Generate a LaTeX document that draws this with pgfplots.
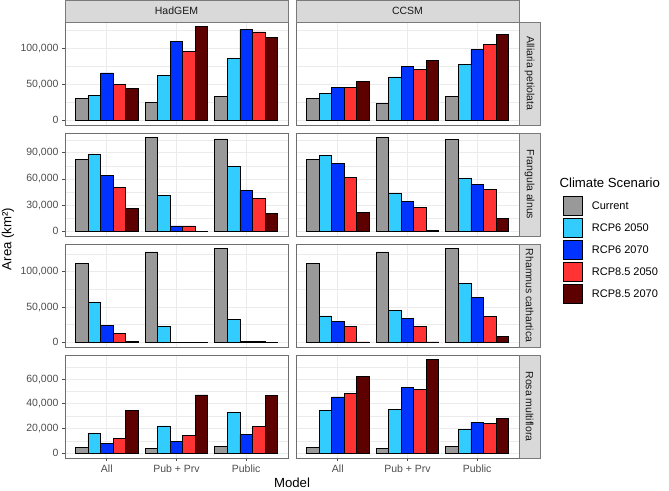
\documentclass[border=0pt]{standalone}
\usepackage{pgfplots}
\pgfplotsset{compat=1.18}
\usepackage{pgfplotstable}
\usepackage{fontspec}
\setmainfont{Liberation Sans}

\definecolor{cur}{HTML}{999999}
\definecolor{rsa}{HTML}{33CCFF}
\definecolor{rsb}{HTML}{0033FF}
\definecolor{rea}{HTML}{FF3333}
\definecolor{reb}{HTML}{5C0000}
\definecolor{gridc}{HTML}{EBEBEB}
\definecolor{borderc}{HTML}{6E6E6E}
\definecolor{tickc}{HTML}{4D4D4D}
\definecolor{stripc}{HTML}{D9D9D9}
\definecolor{stripb}{HTML}{7A7A7A}

\newcommand\tickfont{\fontsize{10.5}{12}\selectfont}
\newcommand\legfont{\fontsize{11}{13}\selectfont}
\newcommand\titlefont{\fontsize{13.2}{15}\selectfont}

% area in km^2, one table per panel: x = 1 All, 2 Pub + Prv, 3 Public
\pgfplotstableread{
x cur r6a r6b r85a r85b
1 30600 34200 65800 49800 44700
2 24200 62100 109600 95900 130100
3 33300 85800 126500 122800 114600
}\allHad
\pgfplotstableread{
x cur r6a r6b r85a r85b
1 30600 37400 46100 46100 53900
2 23700 60300 74900 71200 83600
3 33300 77600 98600 105500 119600
}\allCC
\pgfplotstableread{
x cur r6a r6b r85a r85b
1 82100 88100 64300 50300 26100
2 107400 41600 6100 6100 300
3 105900 74500 46900 38200 20400
}\fraHad
\pgfplotstableread{
x cur r6a r6b r85a r85b
1 82100 86800 77900 61600 21900
2 107400 43500 34000 26900 800
3 105500 60500 53300 47700 15100
}\fraCC
\pgfplotstableread{
x cur r6a r6b r85a r85b
1 111700 57000 23800 12100 800
2 128000 22400 300 300 300
3 132700 32700 600 600 300
}\rhaHad
\pgfplotstableread{
x cur r6a r6b r85a r85b
1 111700 37400 29400 22000 500
2 128000 44900 34100 22900 500
3 132700 83600 63100 36400 7900
}\rhaCC
\pgfplotstableread{
x cur r6a r6b r85a r85b
1 4800 16300 8300 12000 34900
2 4300 22100 9300 14100 47200
3 5900 33300 14900 21900 46900
}\rosHad
\pgfplotstableread{
x cur r6a r6b r85a r85b
1 4800 34400 45600 48500 62400
2 4300 35200 53300 51500 75700
3 5900 19500 25100 24300 28300
}\rosCC

\pgfplotsset{
  panel/.style={
    width=223pt, height=103pt, scale only axis, anchor=south west,
    xmin=0.4, xmax=3.6, xtick={1,2,3}, xticklabels={},
    tick pos=left, tick align=outside,
    major tick length=3pt, minor tick length=0pt,
    axis line style={draw=borderc, line width=0.8pt},
    tick style={draw=tickc, line width=0.7pt},
    xmajorgrids, ymajorgrids, yminorgrids,
    major grid style={draw=gridc, line width=0.9pt},
    minor grid style={draw=gridc, line width=0.45pt},
    scaled y ticks=false,
    yticklabel style={font=\tickfont, text=tickc,
      /pgf/number format/.cd, fixed, 1000 sep={,}, assume math mode=true},
    xticklabel style={font=\tickfont, text=tickc},
  },
  rightcol/.style={yticklabels={}, ytick style={draw=none}},
  nobottom/.style={xtick style={draw=none}},
  bottom/.style={xticklabels={All, Pub + Prv, Public}},
  rowA/.style={ymin=-6505, ymax=136605, ytick={0,50000,100000},
    minor ytick={25000,75000,125000}},
  rowB/.style={ymin=-5370, ymax=112770, ytick={0,30000,60000,90000},
    minor ytick={15000,45000,75000,105000}},
  rowC/.style={ymin=-6635, ymax=139335, ytick={0,50000,100000},
    minor ytick={25000,75000,125000}},
  rowD/.style={ymin=-3785, ymax=79485, ytick={0,20000,40000,60000},
    minor ytick={10000,30000,50000,70000}},
  bar/.style={ybar, bar width=0.18, draw=black, line width=0.8pt,
    legend image code/.code={
      \draw[##1] (0pt,-9.5pt) rectangle (19pt,9.5pt);
      \path (28pt,0pt);}},
}

\newcommand\bars[1]{%
  \addplot[bar, bar shift=-0.36, fill=cur] table[x=x, y=cur] {#1};
  \addplot[bar, bar shift=-0.18, fill=rsa] table[x=x, y=r6a] {#1};
  \addplot[bar, bar shift=0,     fill=rsb] table[x=x, y=r6b] {#1};
  \addplot[bar, bar shift=0.18,  fill=rea] table[x=x, y=r85a] {#1};
  \addplot[bar, bar shift=0.36,  fill=reb] table[x=x, y=r85b] {#1};
}

\begin{document}
\begin{tikzpicture}
\useasboundingbox (0pt,0pt) rectangle (669pt,490pt);

% row 1: Alliaria petiolata
\begin{axis}[panel, rowA, nobottom, at={(65pt,365pt)}]
\bars{\allHad}
\end{axis}
\begin{axis}[panel, rowA, nobottom, rightcol, at={(296pt,365pt)}]
\bars{\allCC}
\end{axis}

% row 2: Frangula alnus
\begin{axis}[panel, rowB, nobottom, at={(65pt,254pt)}]
\bars{\fraHad}
\end{axis}
\begin{axis}[panel, rowB, nobottom, rightcol, at={(296pt,254pt)},
  legend style={at={(axis description cs:1.197,0.388)}, anchor=north west,
    draw=none, fill=none, inner sep=0pt, row sep=2.2pt,
    font=\legfont, nodes={inner sep=0pt}},
  legend cell align=left]
\bars{\fraCC}
\legend{Current, RCP6 2050, RCP6 2070, RCP8.5 2050, RCP8.5 2070}
\end{axis}

% row 3: Rhamnus cathartica
\begin{axis}[panel, rowC, nobottom, at={(65pt,143pt)}]
\bars{\rhaHad}
\end{axis}
\begin{axis}[panel, rowC, nobottom, rightcol, at={(296pt,143pt)}]
\bars{\rhaCC}
\end{axis}

% row 4: Rosa multiflora
\begin{axis}[panel, rowD, bottom, at={(65pt,32pt)}]
\bars{\rosHad}
\end{axis}
\begin{axis}[panel, rowD, bottom, rightcol, at={(296pt,32pt)}]
\bars{\rosCC}
\end{axis}

% facet strips
\begin{scope}[every node/.style={font=\tickfont, text=black!90}]
\draw[fill=stripc, draw=stripb, line width=0.6pt] (65pt,468pt) rectangle (288pt,490pt);
\node at (176.5pt,479pt) {HadGEM};
\draw[fill=stripc, draw=stripb, line width=0.6pt] (296pt,468pt) rectangle (519pt,490pt);
\node at (407.5pt,479pt) {CCSM};
\draw[fill=stripc, draw=stripb, line width=0.6pt] (519pt,365pt) rectangle (540pt,468pt);
\node[rotate=-90] at (529.5pt,416.5pt) {Alliaria petiolata};
\draw[fill=stripc, draw=stripb, line width=0.6pt] (519pt,254pt) rectangle (540pt,357pt);
\node[rotate=-90] at (529.5pt,305.5pt) {Frangula alnus};
\draw[fill=stripc, draw=stripb, line width=0.6pt] (519pt,143pt) rectangle (540pt,246pt);
\node[rotate=-90] at (529.5pt,194.5pt) {Rhamnus cathartica};
\draw[fill=stripc, draw=stripb, line width=0.6pt] (519pt,32pt) rectangle (540pt,135pt);
\node[rotate=-90] at (529.5pt,83.5pt) {Rosa multiflora};
\end{scope}

% titles
\node[font=\titlefont, rotate=90] at (8pt,251pt) {Area (km²)};
\node[font=\titlefont] at (292pt,7pt) {Model};
\node[font=\titlefont, anchor=west] at (556pt,307pt) {Climate Scenario};
\end{tikzpicture}
\end{document}
